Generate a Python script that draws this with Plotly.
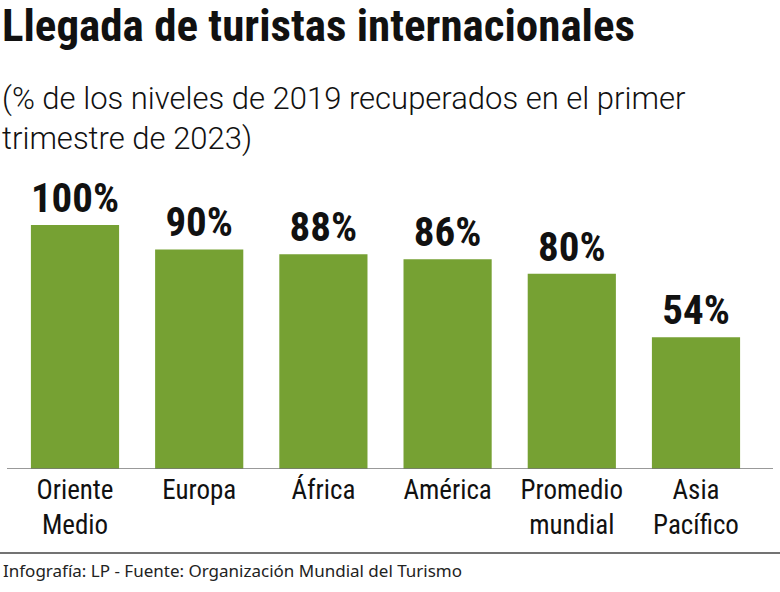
import plotly.graph_objects as go

categories = ["Oriente<br>Medio", "Europa", "África", "América", "Promedio<br>mundial", "Asia<br>Pacífico"]
values = [100, 90, 88, 86, 80, 54]
labels = [f"{v}%" for v in values]

W, H = 780, 592
TOP, BASE = 200, 469
ph = BASE - TOP

def py(p):
    return (BASE - p) / ph

def px(p):
    return p / W

GREEN = "#76a133"
COND = "Roboto Condensed, DejaVu Sans Condensed, Roboto"

fig = go.Figure(go.Bar(
    x=list(range(len(categories))),
    y=values,
    text=labels,
    textposition="outside",
    textfont=dict(family=COND, size=41, color="#111111", weight="bold"),
    marker=dict(color=GREEN, line=dict(width=0)),
    width=0.71,
    cliponaxis=False,
    hoverinfo="skip",
))

unit = 124.2
x0 = -75 / unit
fig.update_layout(
    width=W, height=H,
    margin=dict(l=0, r=0, t=TOP, b=H - BASE),
    paper_bgcolor="white", plot_bgcolor="white",
    showlegend=False,
    xaxis=dict(
        range=[x0, x0 + W / unit],
        tickmode="array",
        tickvals=list(range(len(categories))),
        ticktext=categories,
        tickfont=dict(family=COND, size=27, color="#111111"),
        ticklabelstandoff=2,
        showgrid=False, zeroline=False, showline=False, ticks="",
        fixedrange=True,
    ),
    yaxis=dict(
        range=[0, ph / 2.44],
        visible=False, fixedrange=True,
    ),
)

fig.add_shape(type="line", xref="paper", yref="y", x0=px(7), x1=px(773), y0=0, y1=0,
              line=dict(color="#777777", width=1.5))
fig.add_shape(type="line", xref="paper", yref="paper", x0=0, x1=1, y0=py(553), y1=py(553),
              line=dict(color="#444444", width=1.5))

fig.add_annotation(xref="paper", yref="paper", x=px(0), y=py(-3), xanchor="left", yanchor="top",
                   text="<b>Llegada de turistas internacionales</b>", showarrow=False,
                   font=dict(family=COND, size=45, color="#111111"))
fig.add_annotation(xref="paper", yref="paper", x=px(0), y=py(78), xanchor="left", yanchor="top",
                   align="left",
                   text="(% de los niveles de 2019 recuperados en el primer<br>trimestre de 2023)",
                   showarrow=False,
                   font=dict(family="Roboto", size=31, color="#111111", weight=300))
fig.add_annotation(xref="paper", yref="paper", x=px(1), y=py(570), xanchor="left", yanchor="middle",
                   text="Infografía: LP - Fuente: Organización Mundial del Turismo", showarrow=False,
                   font=dict(family="Noto Sans", size=17, color="#222222"))

fig.write_html("out.html", config={"displayModeBar": False},
               post_script="document.body.style.margin='0';")
